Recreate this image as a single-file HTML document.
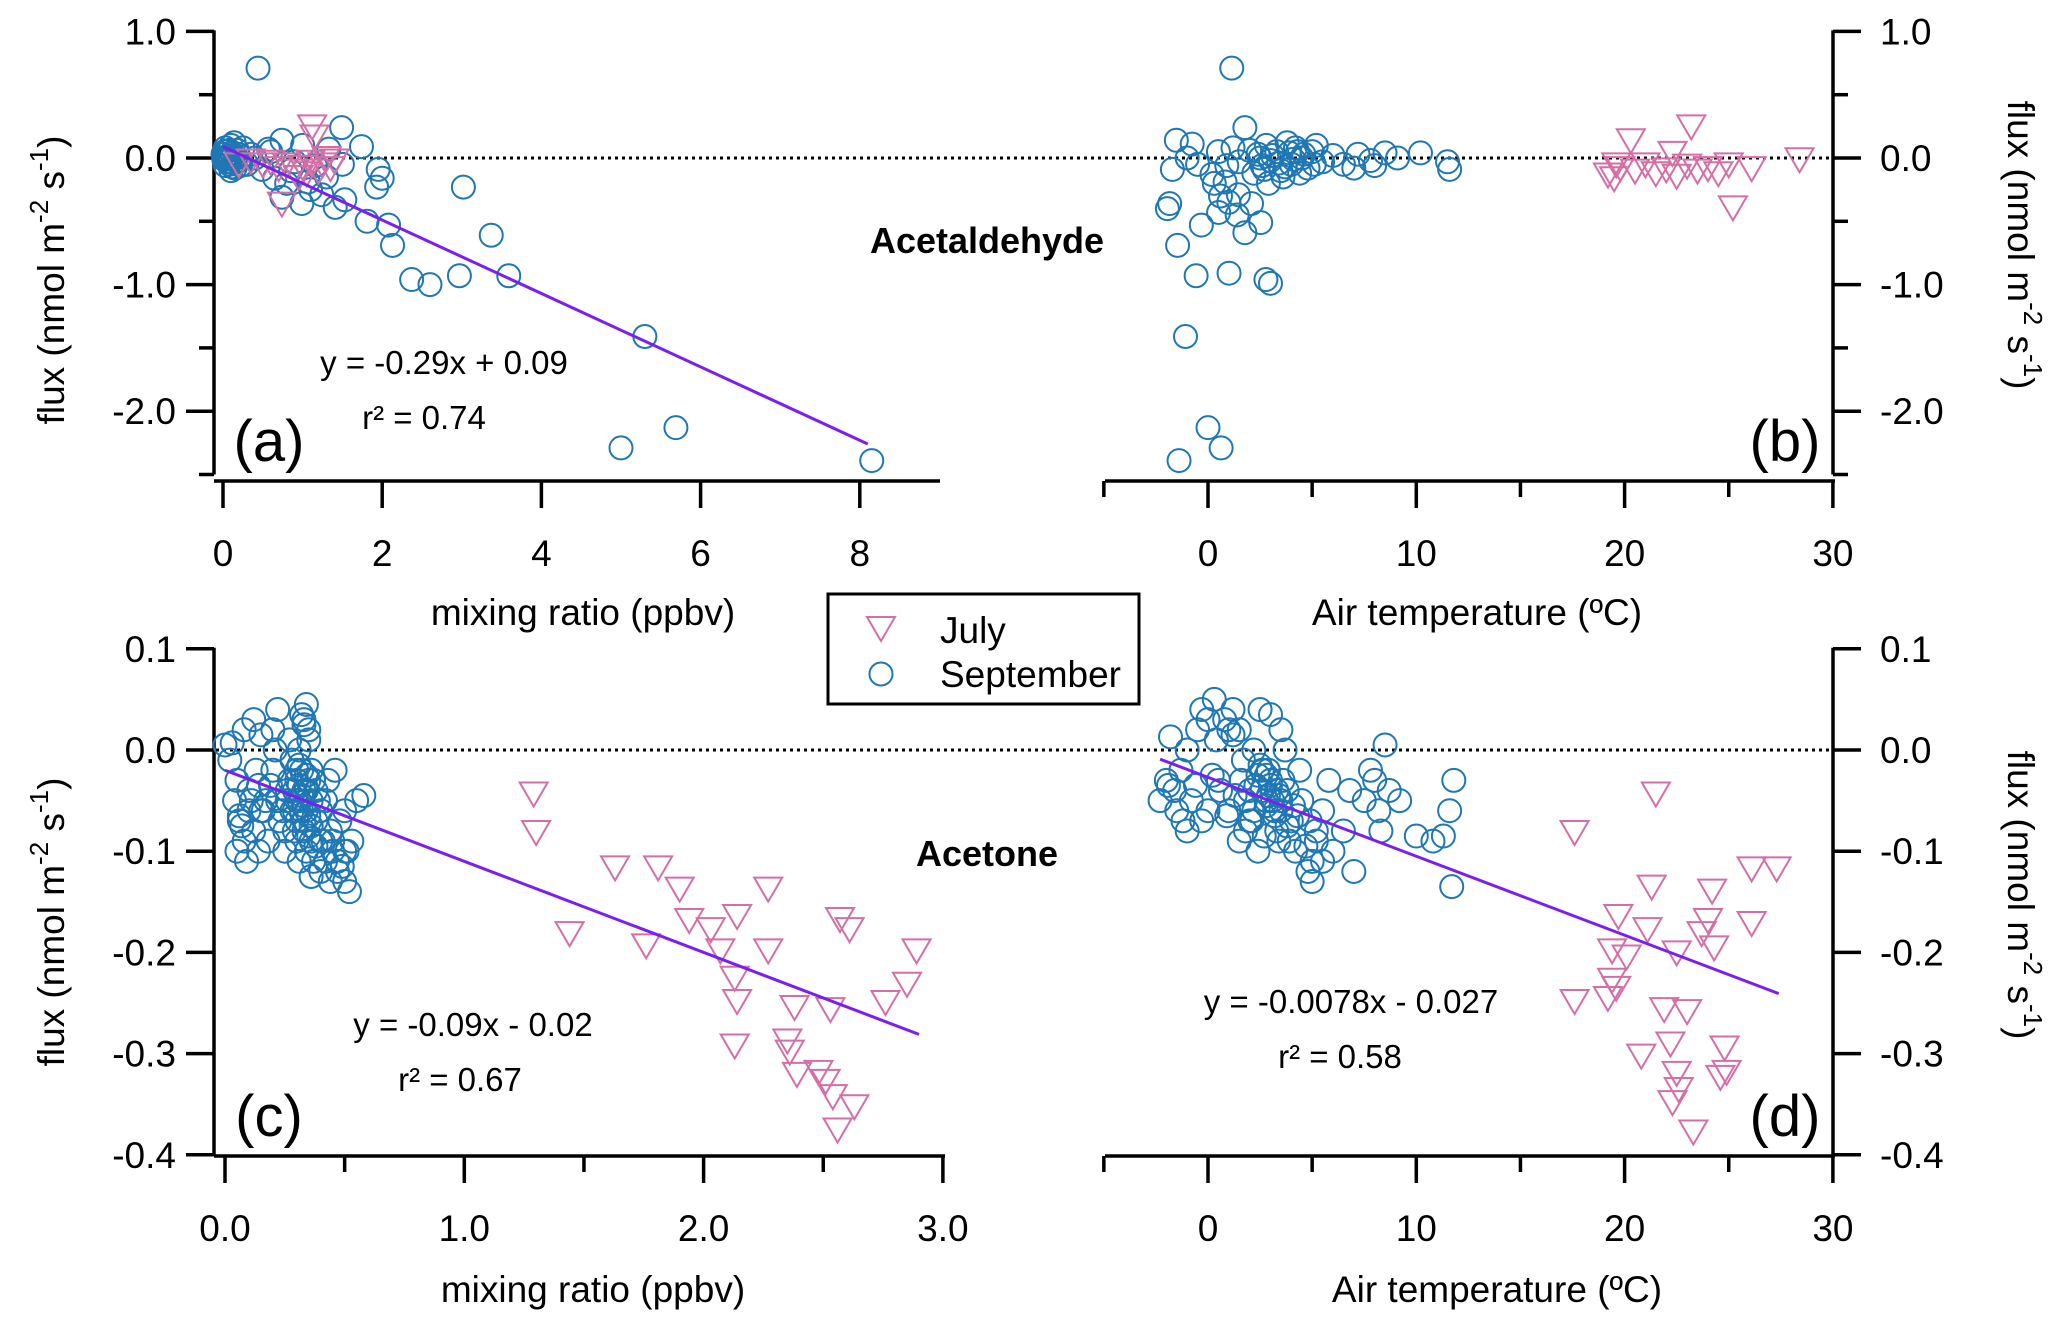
<!DOCTYPE html>
<html><head><meta charset="utf-8"><style>
html,body{margin:0;padding:0;background:#fff;}
svg{display:block;font-family:"Liberation Sans",sans-serif;}
</style></head><body>
<svg id="chart" width="2067" height="1320" viewBox="0 0 2067 1320" xmlns="http://www.w3.org/2000/svg"></svg>
<script>
// ---------- DATA ----------
const aSepX=[0.02,0.05,0.08,0.1,0.12,0.15,0.18,0.2,0.05,0.0,0.1,0.25,0.3,0.35,0.03,0.14,0.44,0.49,0.57,0.65,0.74,0.74,0.9,0.99,1.07,1.16,1.24,1.33,1.41,1.49,1.53,1.74,1.81,1.95,2.0,1.93,2.08,2.13,3.02,3.37,3.59,2.37,2.6,2.97,5.3,5.0,5.69,8.15,0.8,0.6,1.0,1.3,1.5,0.85,1.1,0.4,0.01,0.04,0.06,0.09,0.11,0.13,0.07,0.03,0.16,0.19,0.22,0.08,0.12,0.02];
const aSepY=[0.0,0.05,-0.05,0.1,0.02,-0.08,0.06,-0.02,-0.03,0.03,-0.1,0.08,-0.05,0.03,0.08,0.12,0.71,-0.09,0.07,-0.16,0.14,-0.31,-0.03,-0.36,-0.19,-0.06,-0.29,0.07,-0.39,0.24,-0.33,0.09,-0.5,-0.09,-0.16,-0.23,-0.53,-0.69,-0.23,-0.61,-0.93,-0.96,-1.0,-0.93,-1.41,-2.29,-2.13,-2.39,-0.2,0.05,0.1,-0.15,-0.05,-0.1,-0.25,0.0,-0.01,0.01,0.0,-0.01,0.04,-0.04,0.02,-0.06,0.0,0.03,-0.06,0.06,-0.07,0.05];
const aJulX=[0.2,0.35,0.5,0.6,0.7,0.8,0.9,1.0,1.05,1.1,1.15,1.12,1.2,1.25,1.3,1.35,0.74,0.95,1.4];
const aJulY=[-0.05,-0.02,-0.05,-0.03,-0.08,-0.05,-0.1,-0.07,-0.12,-0.03,0.17,0.25,-0.1,-0.05,0.0,-0.08,-0.36,-0.15,-0.02];
const bSepX=[1.14,-1.46,-1.84,-1.95,-0.57,1.01,2.78,3.0,-1.08,0,0.63,-1.39,2.53,1.77,-0.32,0.51,-1.52,-0.76,1.77,0.82,2.09,1.46,0.19,-1.71,11.6,11.5,10.2,9.1,8.5,7.8,7.2,6.5,6.0,5.5,5.0,4.8,4.5,4.2,4.0,3.8,3.5,3.3,3.0,2.8,2.6,2.4,2.2,2.0,1.5,1.2,0.9,0.5,0.3,-0.5,-1.0,5.2,3.6,4.4,2.9,8.0,7.0,1.0,0.6,1.4,3.1,3.4,3.9,4.1,4.6,2.7,2.5,3.7,4.3,5.1];
const bSepY=[0.71,-0.69,-0.36,-0.4,-0.93,-0.91,-0.96,-0.99,-1.41,-2.13,-2.29,-2.39,-0.51,-0.59,-0.53,-0.43,0.14,0.11,0.24,-0.19,-0.36,-0.29,-0.13,-0.09,-0.09,-0.03,0.04,0,0.04,-0.02,0.03,-0.05,0.02,-0.03,0.05,-0.08,0.0,0.08,-0.05,0.12,-0.1,0.05,-0.02,0.1,-0.06,0.03,-0.12,0.06,-0.03,0.08,-0.06,0.05,-0.2,-0.05,0.0,0.1,-0.15,-0.12,-0.2,-0.06,-0.08,-0.35,-0.3,-0.45,0.02,-0.04,0.04,-0.01,0.03,-0.09,0.0,-0.07,0.05,-0.05];
const bJulX=[20.3,23.2,22.3,25.2,28.4,26.1,19.2,19.5,19.8,20.5,21.0,21.5,22.0,22.5,23.0,23.5,24.0,24.5,25.0,19.6];
const bJulY=[0.14,0.25,0.04,-0.39,-0.01,-0.08,-0.13,-0.16,-0.08,-0.1,-0.05,-0.12,-0.09,-0.14,-0.06,-0.1,-0.08,-0.12,-0.05,-0.05];
const cSepX=[0.0,0.03,0.02,0.05,0.04,0.06,0.08,0.1,0.05,0.09,0.12,0.1,0.13,0.08,0.12,0.15,0.15,0.14,0.18,0.17,0.2,0.22,0.2,0.23,0.25,0.26,0.28,0.27,0.22,0.25,0.3,0.31,0.32,0.33,0.34,0.35,0.36,0.33,0.34,0.32,0.35,0.31,0.3,0.33,0.36,0.38,0.38,0.4,0.37,0.36,0.4,0.29,0.3,0.34,0.42,0.44,0.45,0.47,0.5,0.52,0.48,0.5,0.53,0.55,0.58,0.43,0.46,0.47,0.44,0.5,0.41,0.31,0.32,0.33,0.34,0.35,0.3,0.29,0.28,0.27,0.36,0.37,0.39,0.31,0.33,0.35,0.32,0.34,0.3,0.36,0.38,0.29,0.26,0.24,0.4,0.42,0.07,0.11,0.16,0.19,0.21,0.06,0.14,0.33,0.35,0.31,0.49,0.45,0.51];
const cSepY=[0.005,0.007,-0.01,-0.03,-0.05,-0.07,-0.09,-0.06,-0.1,-0.11,-0.08,-0.04,-0.02,0.02,0.03,0.015,-0.06,-0.1,-0.09,-0.05,0.02,0.04,-0.02,-0.07,-0.1,-0.04,-0.01,0.01,-0.05,-0.08,-0.03,-0.05,-0.02,-0.04,-0.06,-0.03,-0.05,0.03,0.045,0.035,0.02,0.0,-0.07,-0.08,-0.09,-0.07,-0.04,-0.06,-0.11,-0.125,-0.12,-0.06,-0.09,-0.1,-0.05,-0.08,-0.1,-0.12,-0.13,-0.14,-0.07,-0.06,-0.09,-0.05,-0.045,-0.03,-0.02,-0.11,-0.13,-0.1,-0.09,-0.035,-0.045,-0.055,-0.025,-0.065,-0.02,-0.04,-0.06,-0.03,-0.075,-0.03,-0.05,-0.015,-0.07,-0.085,-0.06,-0.04,-0.05,-0.02,-0.095,-0.08,-0.05,-0.06,-0.09,-0.11,-0.075,-0.05,-0.06,-0.035,0.0,-0.065,-0.035,0.025,0.01,-0.11,-0.115,-0.09,-0.1];
const cJulX=[1.29,1.3,1.44,1.63,1.81,1.9,1.76,1.94,2.03,2.07,2.14,2.27,2.27,2.13,2.14,2.13,2.38,2.35,2.36,2.39,2.48,2.51,2.54,2.56,2.63,2.53,2.57,2.61,2.76,2.85,2.89];
const cJulY=[-0.043,-0.081,-0.181,-0.116,-0.116,-0.137,-0.193,-0.168,-0.177,-0.198,-0.164,-0.137,-0.198,-0.225,-0.248,-0.292,-0.254,-0.287,-0.298,-0.32,-0.318,-0.327,-0.342,-0.375,-0.352,-0.256,-0.167,-0.177,-0.249,-0.231,-0.198];
const dSepX=[-2.3,-2.0,-1.8,-1.6,-1.5,-1.3,-1.0,-0.8,-0.5,-0.3,0,0.3,0.5,0.8,1.0,1.2,1.5,1.8,2.0,2.2,2.5,2.6,2.8,3.0,3.2,3.0,3.5,3.8,4.0,4.2,4.5,4.8,5.0,5.2,5.5,5.8,6.0,6.5,7.0,7.5,8.0,8.2,8.5,8.7,8.3,10.0,11.3,11.8,11.6,11.7,7.8,2.4,1.5,3.3,0.0,-1.0,3.5,2.9,4.4,1.0,5.5,4.9,6.8,9.2,10.8,3.7,2.3,0.6,-0.3,3.9,2.6,2.8,3.0,3.2,3.4,2.4,2.2,2.0,3.6,3.8,2.7,2.9,3.1,3.3,1.8,1.6,4.1,4.3,2.5,3.5,1.3,0.9,5.2,4.7,5.0,-1.9,-1.2,-0.6,0.2,0.4,1.2,1.7,2.1,3.4,2.8];
const dSepY=[-0.05,-0.03,0.013,-0.04,-0.06,-0.02,0.0,-0.05,0.02,-0.07,0.03,0.05,-0.03,0.03,-0.06,0.04,0.02,-0.08,-0.04,0.0,0.04,-0.02,-0.05,-0.03,-0.06,0.035,0.02,-0.04,-0.07,-0.1,-0.05,-0.12,-0.13,-0.09,-0.06,-0.03,-0.1,-0.08,-0.12,-0.05,-0.03,-0.06,0.005,-0.04,-0.08,-0.085,-0.085,-0.03,-0.06,-0.135,-0.02,-0.1,-0.09,-0.08,-0.06,-0.08,-0.05,-0.045,-0.02,0.02,-0.11,-0.07,-0.04,-0.05,-0.09,0.0,-0.035,-0.04,0.04,-0.09,-0.04,-0.055,-0.035,-0.065,-0.045,-0.025,-0.06,-0.07,-0.03,-0.075,-0.085,-0.02,-0.05,-0.04,-0.05,-0.03,-0.055,-0.065,-0.015,-0.06,-0.045,-0.065,-0.08,-0.095,-0.11,-0.035,-0.07,-0.035,-0.025,0.01,0.015,-0.01,-0.07,-0.09,-0.025,0.03];
const dJulX=[21.5,17.6,21.3,24.2,26.1,27.3,19.7,21.1,19.4,20.1,22.5,23.7,24.0,24.3,26.1,19.4,19.6,19.2,17.6,21.9,23.0,20.8,22.2,24.8,22.5,22.3,22.6,24.6,23.3,24.9];
const dJulY=[-0.043,-0.081,-0.135,-0.139,-0.117,-0.117,-0.164,-0.177,-0.198,-0.204,-0.2,-0.181,-0.168,-0.195,-0.171,-0.227,-0.235,-0.245,-0.248,-0.256,-0.258,-0.302,-0.29,-0.294,-0.319,-0.348,-0.335,-0.323,-0.377,-0.318];
// fit lines: slope, intercept, x-start, x-end
const fitA=[-0.29,0.09,0.0,8.1];
const fitC=[-0.09,-0.02,0.0,2.9];
const fitD=[-0.0078,-0.027,-2.3,27.4];
const tickA=["0","2","4","6","8"], tickAv=[0,2,4,6,8];
const tickT=["0","10","20","30"], tickTv=[0,10,20,30];
const tickC=["0.0","1.0","2.0","3.0"], tickCv=[0,1,2,3];
const tickYtop=["1.0","0.0","-1.0","-2.0"], tickYtopV=[1,0,-1,-2];
const tickYbot=["0.1","0.0","-0.1","-0.2","-0.3","-0.4"], tickYbotV=[0.1,0,-0.1,-0.2,-0.3,-0.4];

// ---------- AXIS FUNCTIONS ----------
const NS="http://www.w3.org/2000/svg";
const svg=document.getElementById('chart');
const BLUE="#1f77b4", PINK="#d46fa6", PURP="#7a1ff0";
const FS=37;
const yTop=v=>158-126.6*v;
const yBot=v=>750-1012*v;
const xA=v=>223+79.6*v;
const xT=v=>1208+20.83*v;
const xC=v=>225+239.3*v;
function el(tag,attrs,parent){const e=document.createElementNS(NS,tag);for(const k in attrs)e.setAttribute(k,attrs[k]);(parent||svg).appendChild(e);return e;}
function txt(s,x,y,size,anchor,parent,weight){const t=el('text',{x:x,y:y,'font-size':size,'text-anchor':anchor||'middle',fill:'#000'},parent);if(weight)t.setAttribute('font-weight',weight);t.textContent=s;return t;}

function circles(xs,ys,fx,fy,g){for(let i=0;i<xs.length;i++){const c=el('circle',{cx:fx(xs[i]),cy:fy(ys[i]),r:11.5,fill:'none',stroke:BLUE,'stroke-width':2},g);

}}
function tris(xs,ys,fx,fy,g){for(let i=0;i<xs.length;i++){const x=fx(xs[i]),y=fy(ys[i]);const p=el('path',{d:`M${x-14},${y-11}L${x+14},${y-11}L${x},${y+13}Z`,fill:'none',stroke:PINK,'stroke-width':2},g);

}}
function fit(f,fx,fy,g){const l=el('line',{x1:fx(f[2]),y1:fy(f[0]*f[2]+f[1]),x2:fx(f[3]),y2:fy(f[0]*f[3]+f[1]),stroke:PURP,'stroke-width':3},g);

}
function line(x1,y1,x2,y2,g,w){return el('line',{x1,y1,x2,y2,stroke:'#000','stroke-width':w||3.5},g);}

// ---------- TOP ROW ----------
const gTop=el('g',{});


el('line',{x1:216,y1:yTop(0),x2:1833,y2:yTop(0),stroke:'#000','stroke-width':3,'stroke-dasharray':'3,4'},gTop);
line(214,yTop(1)-1,214,yTop(-2.5),gTop);
for(let v=1;v>=-2.5;v-=0.5){const maj=Math.abs(v-Math.round(v))<0.01;line(maj?186:199,yTop(v),214,yTop(v),gTop);}
tickYtop.forEach((s,i)=>txt(s,176,yTop(tickYtopV[i])+13,FS,'end',gTop));
line(1833,yTop(1)-1,1833,yTop(-2.5),gTop);
for(let v=1;v>=-2.5;v-=0.5){const maj=Math.abs(v-Math.round(v))<0.01;line(1833,yTop(v),maj?1861:1848,yTop(v),gTop);}
tickYtop.forEach((s,i)=>txt(s,1880,yTop(tickYtopV[i])+13,FS,'start',gTop));
line(214,481,940,481,gTop);
tickAv.forEach((v,i)=>{line(xA(v),481,xA(v),508,gTop);txt(tickA[i],xA(v),566,FS,'middle',gTop);});
txt('mixing ratio (ppbv)',583,625,FS,'middle',gTop);
line(1105,481,1835,481,gTop);
for(let v=-5;v<=30;v+=5){const maj=v%10===0;line(xT(v),481,xT(v),maj?508:497,gTop);}
tickTv.forEach((v,i)=>txt(tickT[i],xT(v),566,FS,'middle',gTop));
txt('Air temperature (ºC)',1477,625,FS,'middle',gTop);
circles(aSepX,aSepY,xA,yTop,gTop);tris(aJulX,aJulY,xA,yTop,gTop);fit(fitA,xA,yTop,gTop);
circles(bSepX,bSepY,xT,yTop,gTop);tris(bJulX,bJulY,xT,yTop,gTop);
txt('y = -0.29x + 0.09',444,374,33,'middle',gTop);
txt('r² = 0.74',424,429,33,'middle',gTop);
txt('Acetaldehyde',987,253,36,'middle',gTop,'bold');
txt('(a)',269,461,58,'middle',gTop);
txt('(b)',1785,461,58,'middle',gTop);

// ---------- BOTTOM ROW ----------
const gBot=el('g',{});


el('line',{x1:216,y1:yBot(0),x2:1833,y2:yBot(0),stroke:'#000','stroke-width':3,'stroke-dasharray':'3,4'},gBot);
line(214,yBot(0.1)-1,214,yBot(-0.4),gBot);
tickYbotV.forEach((v,i)=>{line(186,yBot(v),214,yBot(v),gBot);txt(tickYbot[i],176,yBot(v)+13,FS,'end',gBot);});
line(1833,yBot(0.1)-1,1833,yBot(-0.4),gBot);
tickYbotV.forEach((v,i)=>{line(1833,yBot(v),1861,yBot(v),gBot);txt(tickYbot[i],1880,yBot(v)+13,FS,'start',gBot);});
line(214,1156,945,1156,gBot);
for(let v=0;v<=3;v+=0.5){const maj=Math.abs(v-Math.round(v))<0.01;line(xC(v),1156,xC(v),maj?1183:1172,gBot);}
tickCv.forEach((v,i)=>txt(tickC[i],xC(v),1241,FS,'middle',gBot));
txt('mixing ratio (ppbv)',593,1302,FS,'middle',gBot);
line(1105,1156,1835,1156,gBot);
for(let v=-5;v<=30;v+=5){const maj=v%10===0;line(xT(v),1156,xT(v),maj?1183:1172,gBot);}
tickTv.forEach((v,i)=>txt(tickT[i],xT(v),1241,FS,'middle',gBot));
txt('Air temperature (ºC)',1497,1302,FS,'middle',gBot);
circles(cSepX,cSepY,xC,yBot,gBot);tris(cJulX,cJulY,xC,yBot,gBot);fit(fitC,xC,yBot,gBot);
circles(dSepX,dSepY,xT,yBot,gBot);tris(dJulX,dJulY,xT,yBot,gBot);fit(fitD,xT,yBot,gBot);
txt('y = -0.09x - 0.02',473,1036,33,'middle',gBot);
txt('r² = 0.67',460,1091,33,'middle',gBot);
txt('y = -0.0078x - 0.027',1351,1013,33,'middle',gBot);
txt('r² = 0.58',1340,1068,33,'middle',gBot);
txt('Acetone',987,866,36,'middle',gBot,'bold');
txt('(c)',269,1136,58,'middle',gBot);
txt('(d)',1785,1136,58,'middle',gBot);

// ---------- Y TITLES ----------
function ytitle(cx,cy,rot,name){const t=el('text',{transform:`translate(${cx},${cy}) rotate(${rot})`,'font-size':37,'text-anchor':'middle',fill:'#000'});


t.innerHTML='flux (nmol m<tspan dy="-16" font-size="26">-2</tspan><tspan dy="16"> s</tspan><tspan dy="-16" font-size="26">-1</tspan><tspan dy="16">)</tspan>';}
ytitle(64,280,-90,'y-axis-title-a');
ytitle(64,922,-90,'y-axis-title-c');
ytitle(2008,245,90,'y-axis-title-b');
ytitle(2008,895,90,'y-axis-title-d');

// ---------- LEGEND ----------
const gL=el('g',{});


el('rect',{x:828,y:594,width:311,height:110,fill:'#fff',stroke:'#000','stroke-width':3},gL);
tris([0],[0],()=>881,()=>628,gL);
circles([0],[0],()=>881,()=>674,gL);
txt('July',940,643,FS,'start',gL);
txt('September',940,687,FS,'start',gL);
</script>
</body></html>
